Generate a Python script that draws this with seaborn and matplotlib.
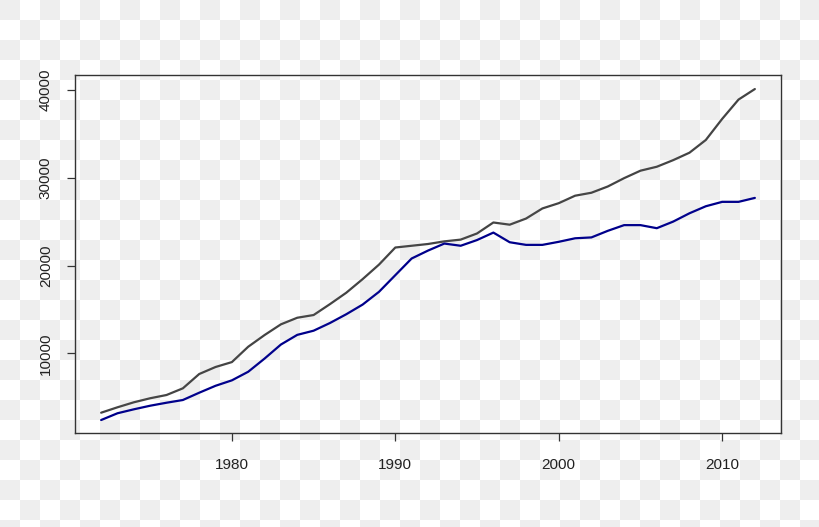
import numpy as np
import pandas as pd
import matplotlib
matplotlib.use("Agg")
import matplotlib.pyplot as plt
import seaborn as sns

years = list(range(1972, 2013))
gray_series = [3234, 3850, 4420, 4880, 5250, 6010, 7640, 8440, 9000, 10750,
               12080, 13300, 14050, 14360, 15600, 16900, 18450, 20100, 22050, 22250,
               22450, 22750, 22950, 23650, 24900, 24650, 25350, 26500, 27100, 27950,
               28290, 29000, 29950, 30800, 31250, 32000, 32850, 34300, 36700, 38900,
               40100]
blue_series = [2400, 3170, 3620, 4030, 4370, 4680, 5510, 6300, 6920, 7900,
               9400, 11000, 12100, 12575, 13450, 14450, 15550, 17000, 18900, 20800,
               21700, 22500, 22250, 22900, 23750, 22650, 22350, 22350, 22700, 23100,
               23200, 23950, 24600, 24600, 24250, 25000, 25950, 26750, 27250, 27250,
               27700]
x_ticks = [1980, 1990, 2000, 2010]
y_ticks = [10000, 20000, 30000, 40000]

df = pd.DataFrame({
    "year": years * 2,
    "value": gray_series + blue_series,
    "series": ["gray"] * len(years) + ["blue"] * len(years),
})

sns.set_style("white")
plt.rcParams["font.family"] = ["Liberation Sans", "DejaVu Sans"]

W, H = 820, 527
fig = plt.figure(figsize=(W / 100, H / 100), dpi=100)

# transparency checkerboard backdrop
jj, ii = np.mgrid[0:H, 0:W]
cells = ((ii // 20) + (jj // 20)) % 2 == 0
bg = np.where(cells, 0.937, 1.0)
img = np.dstack([bg, bg, bg])
fig.figimage(img, xo=0, yo=0, origin="upper", zorder=-10)

ax = fig.add_axes([75 / W, 1 - 433 / H, (781 - 75) / W, (433 - 75) / H])
ax.set_zorder(5)
ax.set_facecolor("none")
ax.patch.set_alpha(0)

sns.lineplot(data=df, x="year", y="value", hue="series",
             palette={"gray": "#454545", "blue": "#00008B"},
             linewidth=1.6, legend=False, ax=ax)

ax.set_xlim(1970.4, 2013.6)
ax.set_ylim(922, 41700)
ax.set_xticks(x_ticks)
ax.set_xticklabels([str(t) for t in x_ticks])
ax.set_yticks(y_ticks)
ax.set_yticklabels([str(t) for t in y_ticks], rotation=90, va="center")
ax.set_xlabel("")
ax.set_ylabel("")

for s in ax.spines.values():
    s.set_visible(True)
    s.set_color("#333333")
    s.set_linewidth(1.0)

ax.tick_params(axis="both", which="major", direction="out", length=6,
               width=0.9, color="#333333", labelsize=11, labelcolor="#222222",
               left=True, bottom=True)
ax.tick_params(axis="x", pad=12)
ax.tick_params(axis="y", pad=10)

fig.savefig("out.png", dpi=100)
